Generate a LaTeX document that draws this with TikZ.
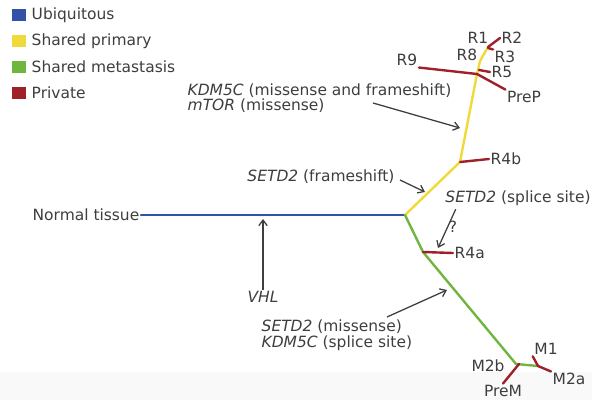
\documentclass[tikz,border=0pt]{standalone}
\usepackage{fontspec}
\setmainfont{DejaVu Sans}
\usetikzlibrary{arrows.meta}
\definecolor{ubiq}{RGB}{50,82,170}
\definecolor{prim}{RGB}{240,218,58}
\definecolor{meta}{RGB}{112,182,62}
\definecolor{priv}{RGB}{158,32,40}
\definecolor{txt}{RGB}{62,62,62}
\tikzstyle{branch} = [line width=1.7pt, line cap=round]
\tikzstyle{ubiquitous} = [branch, draw=ubiq]
\tikzstyle{primary} = [branch, draw=prim]
\tikzstyle{metastasis} = [branch, draw=meta]
\tikzstyle{private} = [branch, draw=priv]
\tikzstyle{tag} = [text=txt, inner sep=1pt, font=\fontsize{11}{11}\selectfont]
\tikzstyle{note} = [tag, align=left]
\tikzstyle{hint} = [draw=txt, line width=0.9pt, -{Straight Barb[length=4pt,width=6pt]}]
\tikzstyle{key} = [rectangle, minimum width=0.34cm, minimum height=0.3cm, inner sep=0pt]

\begin{document}
\begin{tikzpicture}[x=0.025cm, y=-0.025cm]
\useasboundingbox (0,0) rectangle (592,400);
\fill[white] (0,0) rectangle (592,400);
\fill[gray!5] (0,372) rectangle (592,400);

% legend
\node (kubiq) [key, fill=ubiq] at (19,15) {};
\node (kprim) [key, fill=prim] at (19,41) {};
\node (kmeta) [key, fill=meta] at (19,67) {};
\node (kpriv) [key, fill=priv] at (19,93) {};
\node (lubiq) [tag, anchor=west] at (30,15) {Ubiquitous};
\node (lprim) [tag, anchor=west] at (30,41) {Shared primary};
\node (lmeta) [tag, anchor=west] at (30,67) {Shared metastasis};
\node (lpriv) [tag, anchor=west] at (30,93) {Private};

% junctions of the tree
\coordinate (root) at (405,215);
\coordinate (j4b) at (460,162);
\coordinate (jR) at (477,74);
\coordinate (j8) at (480,61);
\coordinate (jtop) at (488,47);
\coordinate (j5) at (479,70);
\coordinate (j4a) at (423,252);
\coordinate (jM) at (516,364);
\coordinate (jM1) at (538,366);

% region labels
\node (normal) [tag, anchor=east] at (141,215) {Normal tissue};
\node (r1) [tag] at (478,38) {R1};
\node (r2) [tag] at (512,38) {R2};
\node (r8) [tag] at (467,55) {R8};
\node (r3) [tag] at (505,57) {R3};
\node (r5) [tag] at (502,72) {R5};
\node (r9) [tag] at (407,60) {R9};
\node (prep) [tag] at (524,97) {PreP};
\node (r4b) [tag, anchor=west] at (489,159) {R4b};
\node (r4a) [tag, anchor=west] at (453,253) {R4a};
\node (m1) [tag] at (546,349) {M1};
\node (m2a) [tag] at (569,379) {M2a};
\node (m2b) [tag] at (488,366) {M2b};
\node (prem) [tag] at (503,391) {PreM};

% branches
\draw[ubiquitous] (normal.east) -- (root);
\draw[primary] (root) -- (j4b) -- (jR) -- (j8) -- (jtop);
\draw[metastasis] (root) -- (j4a) -- (jM) -- (jM1);
\draw[private] (jtop) -- (r2.west);
\draw[private] (jtop) ++(0,1) -- (r3.north west);
\draw[private] (j5) -- (r5.west);
\draw[private] (r9.south east) -- (jR) -- (prep.north west);
\draw[private] (j4b) -- (r4b.west);
\draw[private] (j4a) -- (r4a.west);
\draw[private] (jM1) -- (m1.south west);
\draw[private] (jM1) -- (m2a.north west);
\draw[private] (jM) ++(3,0) -- (prem.north);

% mutations
\node (kdm) [note, anchor=west] at (186,98) {\textit{KDM5C} (missense and frameshift)\\\textit{mTOR} (missense)};
\node (setfs) [tag] at (321,177) {\textit{SETD2} (frameshift)};
\node (setss) [tag] at (518,198) {\textit{SETD2} (splice site)};
\node (quest) [tag] at (453,227) {?};
\node (vhl) [tag] at (263,297) {\textit{VHL}};
\node (setms) [note, anchor=west] at (260,335) {\textit{SETD2} (missense)\\\textit{KDM5C} (splice site)};

\coordinate (akdm) at (373,103);
\coordinate (hkdm) at (460,128);
\coordinate (afs) at (400,180);
\coordinate (hfs) at (425,192);
\coordinate (hss) at (438,248);
\coordinate (hvhl) at (263,219);
\coordinate (ams) at (387,317);
\coordinate (hms) at (447,290);

\draw[hint] (akdm) -- (hkdm);
\draw[hint] (afs) -- (hfs);
\draw[hint] (setss.south west) ++(12,2) -- (hss);
\draw[hint] (vhl.north) -- (hvhl);
\draw[hint] (ams) -- (hms);
\end{tikzpicture}
\end{document}
